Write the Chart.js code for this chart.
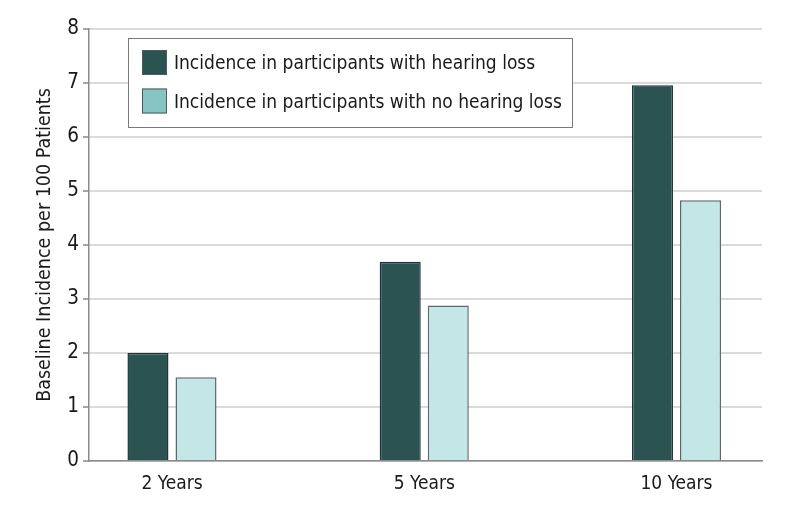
<!DOCTYPE html>
<html>
<head>
<meta charset="utf-8">
<script src="https://cdn.jsdelivr.net/npm/chart.js@4.4.1/dist/chart.umd.min.js"></script>
<style>
  body { margin: 0; background: #fff; }
  canvas { display: block; }
</style>
</head>
<body>
<canvas id="incidenceChart" width="794" height="514"></canvas>
<script>
const categories = ['2 Years', '5 Years', '10 Years'];
const seriesNames = ['Incidence in participants with hearing loss', 'Incidence in participants with no hearing loss'];
const hearingLoss = [2.0, 3.69, 6.96];
const noHearingLoss = [1.55, 2.88, 4.83];
const yTickValues = [0, 1, 2, 3, 4, 5, 6, 7, 8];

const fontFamily = "'DejaVu Sans Condensed', 'DejaVu Sans', sans-serif";
const barFills = ['#2b5352', '#c3e6e6'];
const barBorders = ['#1c3636', '#5e6868'];
const swatchFills = ['#2b5352', '#86c4c3'];

// legend drawn as a framed box inside the plot area
const boxedLegend = {
    id: 'boxedLegend',
    afterDatasetsDraw(chart) {
        const ctx = chart.ctx;
        const area = chart.chartArea;
        const x = area.left + 39, y = area.top + 9, w = 444, h = 89;
        ctx.save();
        ctx.fillStyle = '#fff';
        ctx.fillRect(x, y, w, h);
        ctx.strokeStyle = '#7a7a7a';
        ctx.lineWidth = 1;
        ctx.strokeRect(x + 0.5, y + 0.5, w, h);
        ctx.font = '19px ' + fontFamily;
        ctx.textBaseline = 'alphabetic';
        chart.data.datasets.forEach((ds, i) => {
            const sy = y + 12 + i * 38.5;
            ctx.fillStyle = swatchFills[i];
            ctx.fillRect(x + 14, sy, 25, 25);
            ctx.strokeStyle = '#4f5a5a';
            ctx.strokeRect(x + 14.5, sy + 0.5, 24, 24);
            ctx.fillStyle = '#1a1a1a';
            ctx.fillText(ds.label, x + 46, sy + 19);
        });
        ctx.restore();
    }
};

const ctx = document.getElementById('incidenceChart').getContext('2d');
const chart = new Chart(ctx, {
    type: 'bar',
    data: {
        datasets: [{
            label: seriesNames[0],
            data: hearingLoss.map((v, i) => ({ x: i, y: v })),
            backgroundColor: barFills[0],
            borderColor: barBorders[0],
            borderWidth: 1.5
        }, {
            label: seriesNames[1],
            data: noHearingLoss.map((v, i) => ({ x: i, y: v })),
            backgroundColor: barFills[1],
            borderColor: barBorders[1],
            borderWidth: 1.5
        }]
    },
    options: {
        responsive: false,
        animation: false,
        categoryPercentage: 0.381,
        barPercentage: 0.854,
        layout: {
            padding: { top: 29, right: 32, left: 0, bottom: 0 }
        },
        plugins: {
            legend: { display: false },
            tooltip: { enabled: false }
        },
        scales: {
            x: {
                type: 'linear',
                offset: false,
                min: -0.329,
                max: 2.339,
                afterBuildTicks: (scale) => {
                    scale.ticks = categories.map((c, i) => ({ value: i }));
                },
                afterFit: (scale) => { scale.height = 53; },
                grid: { display: false, offset: false },
                border: { color: '#8a8a8a', width: 1.5 },
                ticks: {
                    color: '#1a1a1a',
                    padding: 4,
                    font: { family: fontFamily, size: 19 },
                    callback: (value) => categories[value]
                }
            },
            y: {
                min: 0,
                max: 8,
                afterBuildTicks: (scale) => {
                    scale.ticks = yTickValues.map(v => ({ value: v }));
                },
                afterFit: (scale) => { scale.width = 89; },
                grid: {
                    color: '#dadada',
                    lineWidth: 2,
                    tickColor: '#8a8a8a',
                    tickLength: 6,
                    tickWidth: 1.5
                },
                border: { color: '#8a8a8a', width: 1.5 },
                ticks: {
                    color: '#1a1a1a',
                    padding: 4,
                    font: { family: fontFamily, size: 20.5 }
                },
                title: {
                    display: true,
                    text: 'Baseline Incidence per 100 Patients',
                    color: '#1a1a1a',
                    font: { family: fontFamily, size: 19.5 },
                    padding: { top: 33, bottom: 0 }
                }
            }
        }
    },
    plugins: [boxedLegend]
});
</script>
</body>
</html>
